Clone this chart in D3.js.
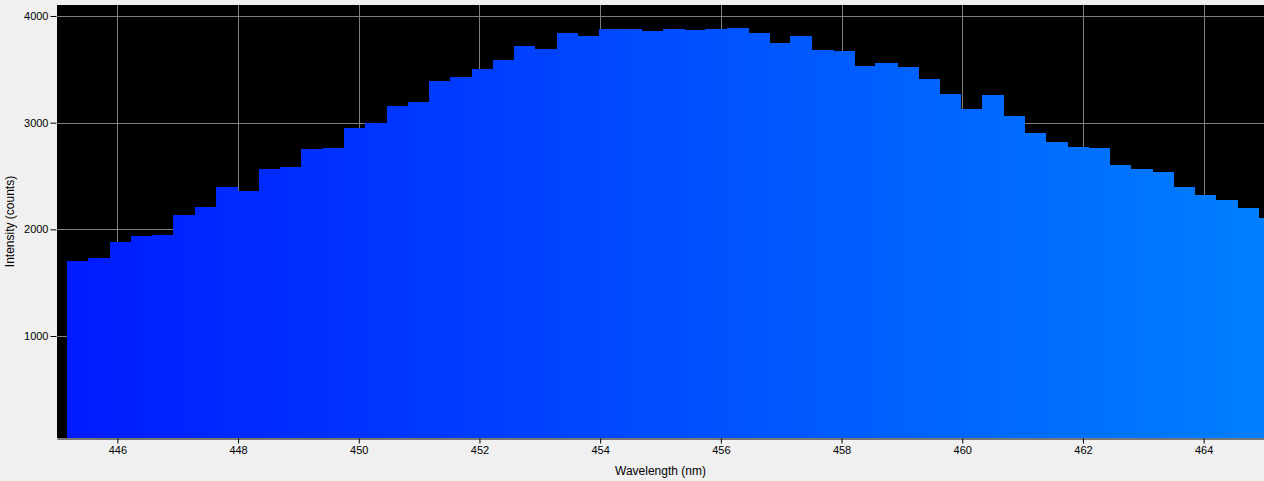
<!DOCTYPE html>
<html>
<head>
<meta charset="utf-8">
<script src="https://cdn.jsdelivr.net/npm/d3@7"></script>
<style>
  body { margin: 0; background: #f0f0f0; }
  svg { display: block; }
  text { font-family: "Liberation Sans", Arial, sans-serif; font-size: 11px; fill: #000; }
</style>
</head>
<body>
<svg id="chart" width="1264" height="481"></svg>
<script>
// start wavelength of each detector bin (nm)
var wavelengths = [
  445.17, 445.52, 445.87, 446.22, 446.58, 446.93, 447.28, 447.64, 447.99, 448.34,
  448.69, 449.05, 449.40, 449.75, 450.10, 450.46, 450.81, 451.16, 451.51, 451.87,
  452.22, 452.57, 452.92, 453.28, 453.63, 453.98, 454.33, 454.69, 455.04, 455.39,
  455.74, 456.10, 456.45, 456.80, 457.15, 457.51, 457.86, 458.21, 458.56, 458.92,
  459.27, 459.62, 459.97, 460.33, 460.68, 461.03, 461.38, 461.74, 462.09, 462.44,
  462.79, 463.15, 463.50, 463.85, 464.20, 464.56, 464.91
];
var counts = [
  1704, 1732, 1882, 1938, 1948, 2135, 2210, 2397, 2360, 2566,
  2585, 2754, 2763, 2950, 2997, 3157, 3194, 3391, 3428, 3503,
  3588, 3719, 3691, 3841, 3813, 3878, 3878, 3859, 3878, 3869,
  3878, 3888, 3841, 3747, 3813, 3681, 3672, 3531, 3560, 3522,
  3410, 3269, 3128, 3260, 3063, 2903, 2819, 2772, 2763, 2604,
  2566, 2538, 2397, 2322, 2275, 2200, 2107
];
var xTicks = [446, 448, 450, 452, 454, 456, 458, 460, 462, 464];
var yTicks = [1000, 2000, 3000, 4000];

var margin = {left: 57, top: 5, right: 0, bottom: 43};
var W = 1264, H = 481;
var svg = d3.select("#chart");

var x = d3.scaleLinear().domain([445, 465]).range([margin.left, W - margin.right]);
var y = d3.scaleLinear().domain([44, 4103]).range([H - margin.bottom, margin.top]);

// spectrum colour: blue band, green rises with wavelength
var specColor = function (w) {
  var g = Math.round(Math.max(0, Math.min(1, (w - 440) / 50)) * 255);
  return "rgb(0," + g + ",255)";
};

var defs = svg.append("defs");
var grad = defs.append("linearGradient")
    .attr("id", "spec")
    .attr("gradientUnits", "userSpaceOnUse")
    .attr("x1", x(445)).attr("x2", x(465))
    .attr("y1", 0).attr("y2", 0);
d3.range(0, 21).forEach(function (i) {
  var w = 445 + i;
  grad.append("stop").attr("offset", (i / 20)).attr("stop-color", specColor(w));
});
defs.append("clipPath").attr("id", "plotClip")
  .append("rect")
    .attr("x", x(445)).attr("y", y(4103))
    .attr("width", x(465) - x(445)).attr("height", y(44) - y(4103));

// plot background
svg.append("rect")
    .attr("x", x(445)).attr("y", y(4103))
    .attr("width", x(465) - x(445)).attr("height", y(44) - y(4103))
    .attr("fill", "#000");

// grid
var grid = svg.append("g").attr("stroke", "#808080").attr("stroke-width", 1);
grid.selectAll(".gx").data(xTicks).enter().append("line")
    .attr("x1", function (d) { return Math.round(x(d)) + 0.5; })
    .attr("x2", function (d) { return Math.round(x(d)) + 0.5; })
    .attr("y1", y(4103)).attr("y2", y(44));
grid.selectAll(".gy").data(yTicks).enter().append("line")
    .attr("y1", function (d) { return Math.round(y(d)) + 0.5; })
    .attr("y2", function (d) { return Math.round(y(d)) + 0.5; })
    .attr("x1", x(445)).attr("x2", x(465));

// bars
var binWidth = function (i) {
  if (i < wavelengths.length - 1) return wavelengths[i + 1] - wavelengths[i];
  return wavelengths[i] - wavelengths[i - 1];
};
svg.append("g").attr("clip-path", "url(#plotClip)")
  .selectAll("rect").data(counts).enter().append("rect")
    .attr("x", function (d, i) { return x(wavelengths[i]); })
    .attr("width", function (d, i) { return x(wavelengths[i] + binWidth(i)) - x(wavelengths[i]) + 0.5; })
    .attr("y", function (d) { return y(d); })
    .attr("height", function (d) { return y(44) - y(d); })
    .attr("fill", "url(#spec)")
    .attr("shape-rendering", "crispEdges");

// axes
var xAxis = svg.append("g")
    .attr("transform", "translate(0," + (y(44) + 0.5) + ")")
    .call(d3.axisBottom(x).tickValues(xTicks).tickFormat(d3.format("d"))
      .tickSize(5).tickPadding(3).tickSizeOuter(0));
xAxis.select(".domain").attr("stroke", "#000");
xAxis.selectAll("text").attr("font-size", 11).attr("font-family", null);

var yAxis = svg.append("g")
    .attr("transform", "translate(" + (x(445) - 0.5) + ",0)")
    .call(d3.axisLeft(y).tickValues(yTicks).tickFormat(d3.format("d"))
      .tickSize(6).tickPadding(2).tickSizeOuter(0));
yAxis.select(".domain").remove();
yAxis.selectAll("text").attr("font-size", 11).attr("font-family", null);

// titles
svg.append("text")
    .attr("x", (x(445) + x(465)) / 2).attr("y", 475)
    .attr("text-anchor", "middle")
    .style("font-size", "12px")
    .text("Wavelength (nm)");
svg.append("text")
    .attr("transform", "translate(14," + ((y(44) + y(4103)) / 2) + ") rotate(-90)")
    .attr("text-anchor", "middle")
    .style("font-size", "12px")
    .text("Intensity (counts)");
</script>
</body>
</html>
